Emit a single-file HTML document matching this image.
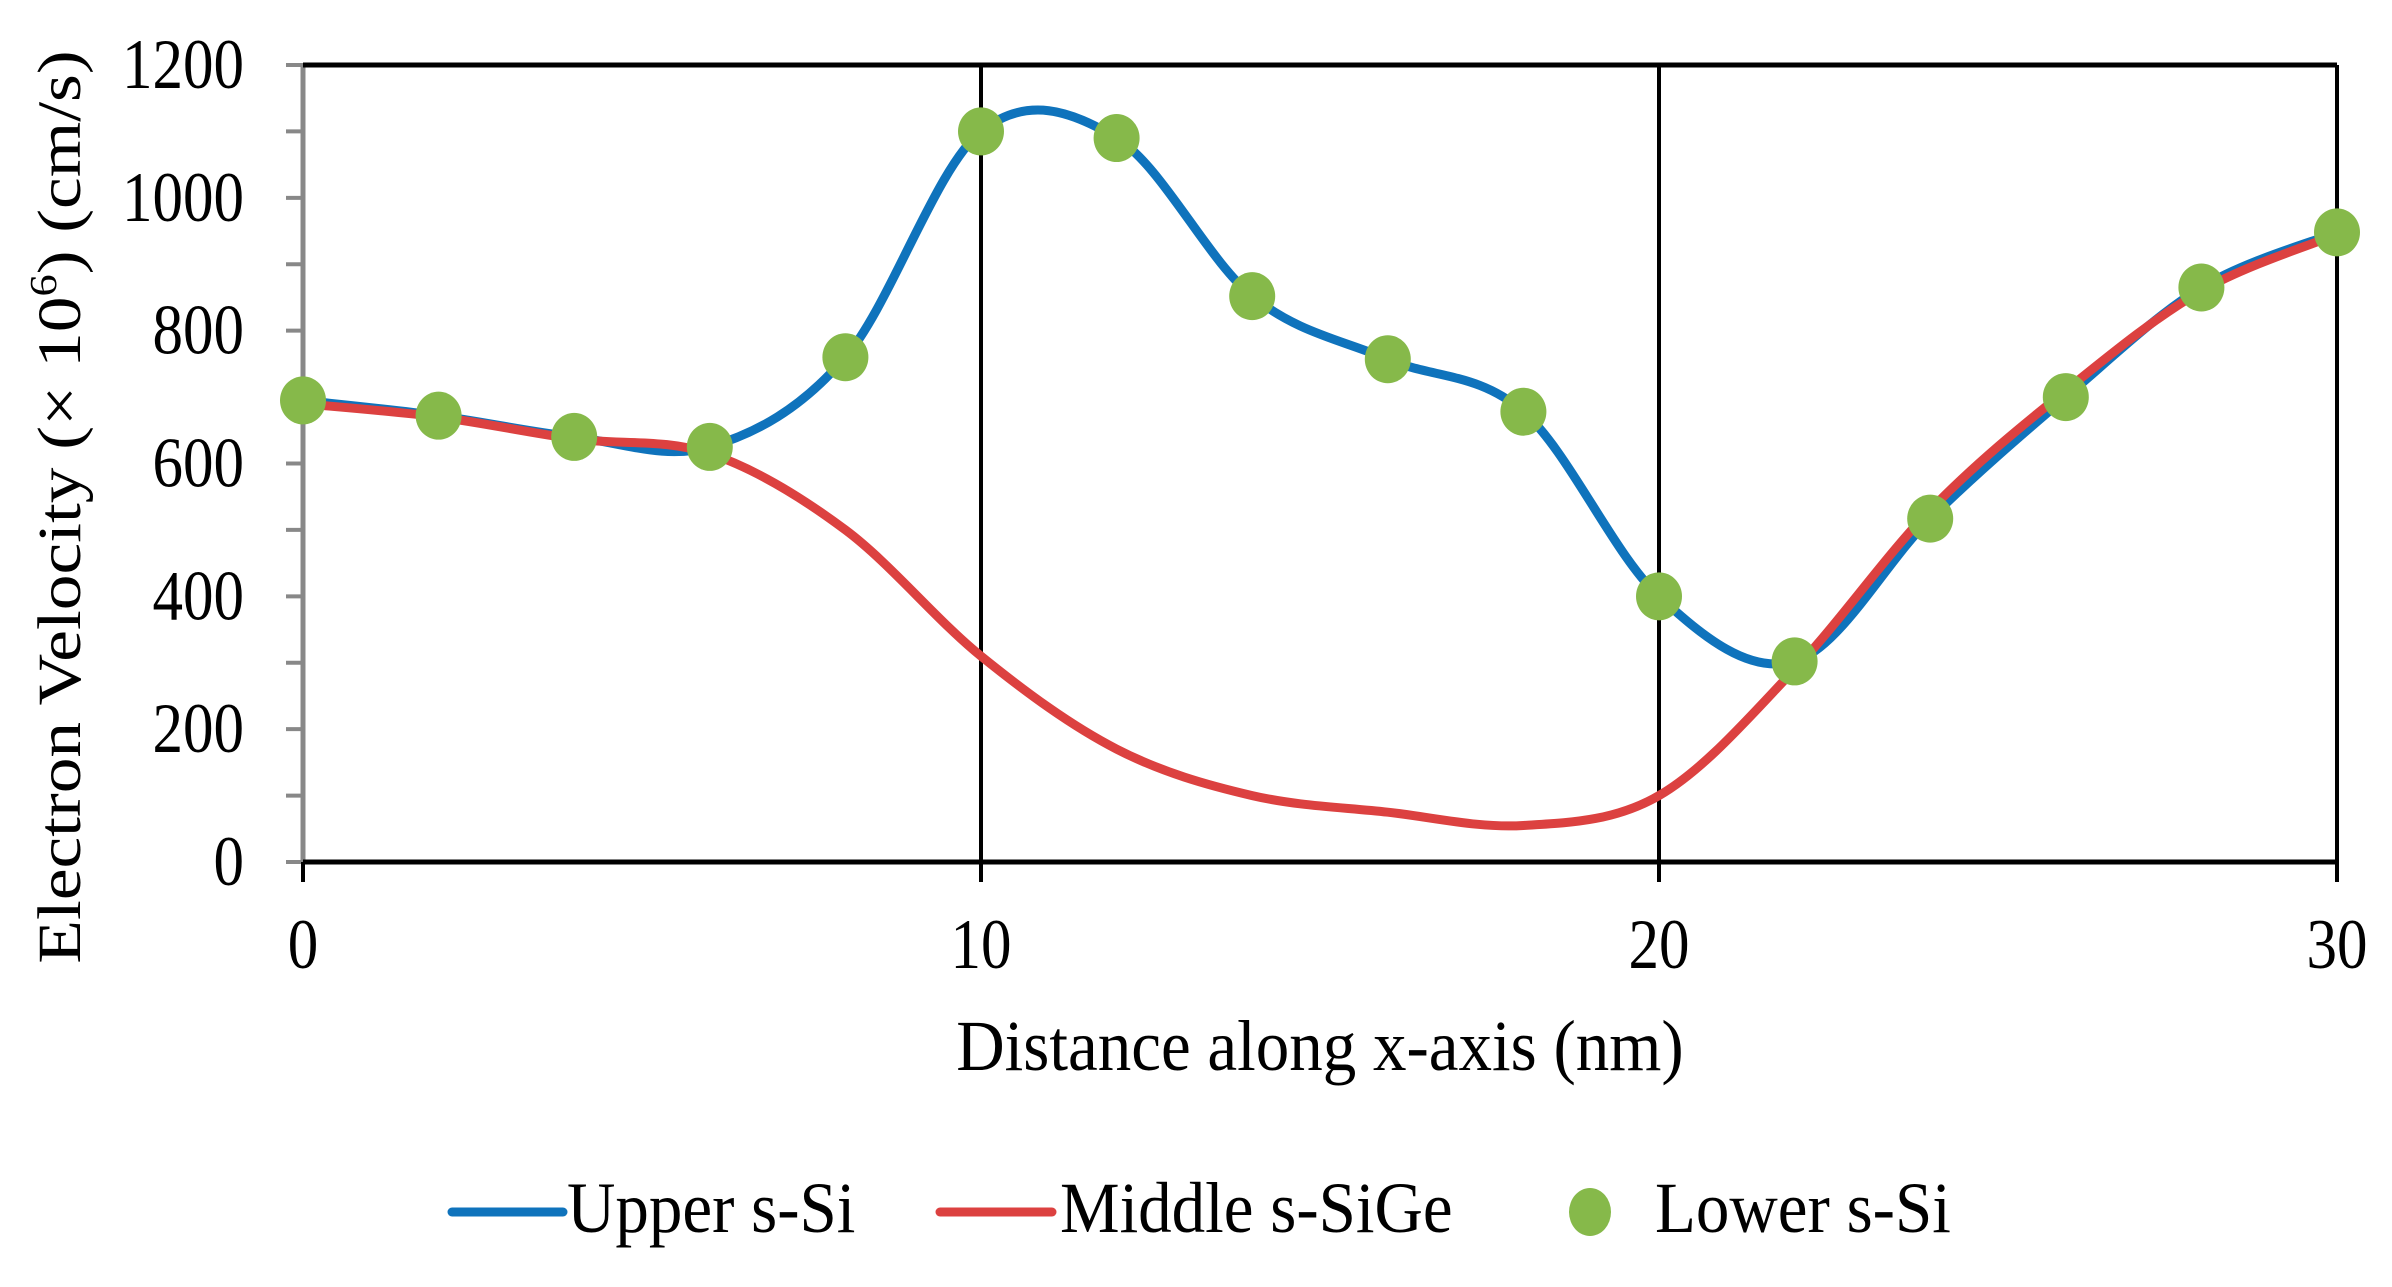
<!DOCTYPE html>
<html><head><meta charset="utf-8"><style>
html,body{margin:0;padding:0;background:#fff;}
svg{display:block;font-family:"Liberation Serif",serif;}
</style></head><body>
<svg id="s" width="2392" height="1287" viewBox="0 0 2392 1287" xmlns="http://www.w3.org/2000/svg">
<g id="ax"></g>
<path id="blue" fill="none" stroke="#0f73bc" stroke-width="9" stroke-linejoin="round"/>
<path id="red" fill="none" stroke="#dc4140" stroke-width="9" stroke-linejoin="round"/>
<g id="mk" fill="#86b94a"></g>
<g id="tx" font-size="61" fill="#000"></g>
</svg>
<script>
var X0=303,X1=2337,Y0=862,Y1=65;
function px(x){return X0+(X1-X0)*x/30;}
function py(y){return Y0-(Y0-Y1)*y/1200;}
var ns="http://www.w3.org/2000/svg";
function el(p,t,a,txt){var e=document.createElementNS(ns,t);for(var k in a)e.setAttribute(k,a[k]);if(txt!=null)e.textContent=txt;document.getElementById(p).appendChild(e);return e;}
for(var v=0;v<=1200;v+=100){el("ax","line",{x1:X0-17,x2:X0,y1:py(v),y2:py(v),stroke:"#888","stroke-width":4});}
el("ax","line",{x1:X0,x2:X0,y1:Y1,y2:Y0,stroke:"#888","stroke-width":5});
el("ax","line",{x1:X0,x2:X1,y1:Y1,y2:Y1,stroke:"#000","stroke-width":5});
el("ax","line",{x1:X0,x2:X1,y1:Y0,y2:Y0,stroke:"#000","stroke-width":5});
[0,10,20,30].forEach(function(t){el("ax","line",{x1:px(t),x2:px(t),y1:t==0?Y0:Y1,y2:Y0+20,stroke:"#000","stroke-width":4});});
var xs=[],B=[695,672,640,625,760,1100,1090,852,757,678,400,302,517,700,865,948];
var R=[690,670,637,615,500,310,170,100,75,55,100,290,530,710,860,945];
for(var i=0;i<16;i++)xs.push(i*2);
function path(ys){var P=xs.map(function(x,i){return[px(x),py(ys[i])];});
 var d="M"+P[0][0]+","+P[0][1];
 for(var i=0;i<P.length-1;i++){var p0=P[Math.max(0,i-1)],p1=P[i],p2=P[i+1],p3=P[Math.min(P.length-1,i+2)];
  var k=1/6;d+=" C"+(p1[0]+(p2[0]-p0[0])*k)+","+(p1[1]+(p2[1]-p0[1])*k)+" "+(p2[0]-(p3[0]-p1[0])*k)+","+(p2[1]-(p3[1]-p1[1])*k)+" "+p2[0]+","+p2[1];}
 return d;}
document.getElementById("blue").setAttribute("d",path(B));
document.getElementById("red").setAttribute("d",path(R));
for(var i=0;i<16;i++)el("mk","ellipse",{cx:px(xs[i]),cy:py(B[i]),rx:23,ry:24});
function T(x,y,s,anchor,fs,sy){var e=el("tx","text",{transform:"translate("+x+","+y+") scale(1,"+(sy||1.17)+")","text-anchor":anchor||"start"},s);if(fs)e.setAttribute("font-size",fs);}
for(var v=0;v<=1200;v+=200)T(244,py(v)+23,String(v),"end");
[0,10,20,30].forEach(function(t){T(px(t),968,String(t),"middle");});
T(1320,1070,"Distance along x-axis (nm)","middle",67,1.07);
var g=el("tx","text",{transform:"translate(80,507) rotate(-90) scale(1.17,1)","text-anchor":"middle"});
g.innerHTML='Electron Velocity (× 10<tspan font-size="38" dy="-24">6</tspan><tspan dy="24">) (cm/s)</tspan>';
el("ax","line",{x1:452,x2:563,y1:1212,y2:1212,stroke:"#0f73bc","stroke-width":9,"stroke-linecap":"round"});
el("ax","line",{x1:940,x2:1052,y1:1212,y2:1212,stroke:"#dc4140","stroke-width":9,"stroke-linecap":"round"});
el("mk","ellipse",{cx:1590,cy:1212,rx:21,ry:24});
T(567,1232,"Upper s-Si","start",67,1.07);T(1060,1232,"Middle s-SiGe","start",67,1.07);T(1655,1232,"Lower s-Si","start",67,1.07);
</script>
</body></html>
